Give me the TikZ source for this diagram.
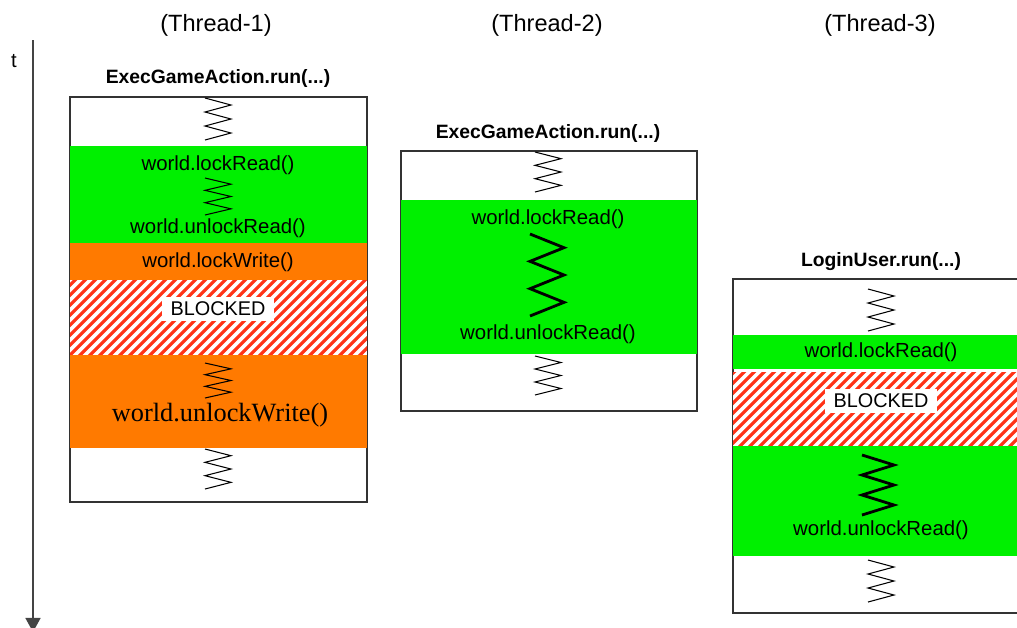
\documentclass[tikz,border=0pt]{standalone}
\usepackage{fontspec}
\setmainfont{Liberation Sans}
\newfontfamily\serifcall{Liberation Serif}
\usepackage{xcolor}
\usepackage{tikz}
\usetikzlibrary{arrows.meta, positioning}
\definecolor{lkGreen}{HTML}{00F000}
\definecolor{lkOrange}{HTML}{FF7A00}
\definecolor{lkHatch}{HTML}{FF3318}
\definecolor{lkAxis}{HTML}{444444}
\tikzset{
  lane/.style={draw=black!80, line width=0.8pt, fill=white},
  readband/.style={fill=lkGreen},
  writeband/.style={fill=lkOrange},
  hatchline/.style={draw=lkHatch, line width=1.8pt},
  zig/.style={draw=black, line width=0.6pt},
  zigbold/.style={draw=black, line width=1.6pt},
  calltitle/.style={font=\bfseries\fontsize{11}{13}\selectfont, inner sep=1pt},
  lockcall/.style={font=\fontsize{11.6}{13}\selectfont, inner sep=1pt},
  blocktag/.style={fill=white, font=\fontsize{11.3}{13}\selectfont, inner xsep=5pt, inner ysep=3pt},
  threadlbl/.style={font=\fontsize{13.4}{15}\selectfont},
  timeaxis/.style={draw=lkAxis, line width=1.1pt, -{Triangle[width=8.5pt, length=8pt]}},
}
% zigzag: [style] centre x, top y, bottom y, half width
\newcommand{\wiggle}[5][zig]{%
  \draw[#1] (#2-#5,#3) \foreach \k in {1,...,6}{ -- ({#2+(2*mod(\k,2)-1)*#5},{#3+\k*(#4-#3)/6}) };
}

\begin{document}
\begin{tikzpicture}[x=0.02cm, y=-0.02cm]
\useasboundingbox (0,0) rectangle (1017,627);

% time axis
\node[font=\fontsize{11.5}{13}\selectfont] (tlbl) at (14,61) {t};
\coordinate (tstart) at (33,40);
\coordinate (tend) at (33,632);
\draw[timeaxis] (tstart) -- (tend);

\node[threadlbl] (th1) at (216,25) {(Thread-1)};
\node[threadlbl] (th2) at (547,25) {(Thread-2)};
\node[threadlbl] (th3) at (880,25) {(Thread-3)};

% Thread-1
\draw[lane] (70,97) rectangle (367,502);
\fill[readband] (70,146) rectangle (367,243);
\fill[writeband] (70,243) rectangle (367,280);
\begin{scope}
  \clip (70,280) rectangle (367,355);
  \fill[white] (70,280) rectangle (367,355);
  \foreach \s in {-30,-20,...,370} \draw[hatchline] (\s,365) -- ++(95,-95);
\end{scope}
\fill[writeband] (70,355) rectangle (367,448);
\node[calltitle] (run1) at (218,78) {ExecGameAction.run(...)};
\wiggle{218}{98}{140}{13}
\node[lockcall] (lr1) at (218,165) {world.lockRead()};
\wiggle{218}{178}{215}{13}
\node[lockcall] (ur1) at (218,228) {world.unlockRead()};
\node[lockcall] (lw1) at (218,262) {world.lockWrite()};
\node[blocktag] (bl1) at (218,309) {BLOCKED};
\wiggle{218}{363}{398}{13}
\node[lockcall, font=\serifcall\fontsize{15}{17}\selectfont] (uw1) at (220,415) {world.unlockWrite()};
\wiggle{218}{449}{489}{13}

% Thread-2
\draw[lane] (401,151) rectangle (697,411);
\fill[readband] (401,200) rectangle (697,354);
\node[calltitle] (run2) at (548,133) {ExecGameAction.run(...)};
\wiggle{548}{152}{192}{13}
\node[lockcall] (lr2) at (548,219) {world.lockRead()};
\wiggle[zigbold]{547}{234}{316}{17}
\node[lockcall] (ur2) at (548,334) {world.unlockRead()};
\wiggle{548}{356}{395}{13}

% Thread-3
\draw[lane] (733,279) rectangle (1030,613);
\fill[readband] (733,335) rectangle (1030,369);
\begin{scope}
  \clip (733,372) rectangle (1030,446);
  \fill[white] (733,372) rectangle (1030,446);
  \foreach \s in {630,640,...,1040} \draw[hatchline] (\s,456) -- ++(95,-95);
\end{scope}
\fill[readband] (733,446) rectangle (1030,556);
\node[calltitle] (run3) at (881,262) {LoginUser.run(...)};
\wiggle{881}{289}{331}{13}
\node[lockcall] (lr3) at (881,352) {world.lockRead()};
\node[blocktag] (bl3) at (881,401) {BLOCKED};
\wiggle[zigbold]{878}{455}{515}{16}
\node[lockcall] (ur3) at (881,530) {world.unlockRead()};
\wiggle{881}{560}{602}{13}
\end{tikzpicture}
\end{document}
